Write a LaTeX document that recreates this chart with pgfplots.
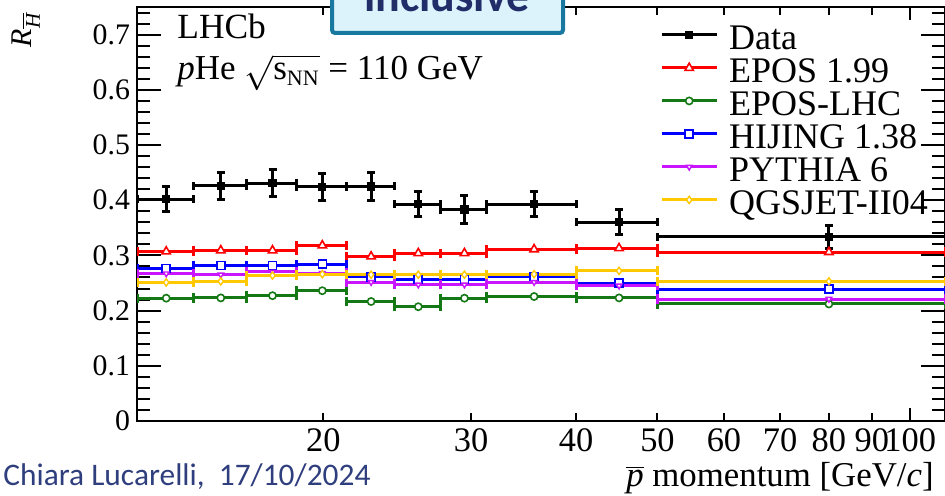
\documentclass[border=0pt]{standalone}
\usepackage{pgfplots}
\usepackage{pgfplotstable}
\pgfplotsset{compat=1.18}
\usepackage{fontspec}
\setmainfont{Liberation Serif}
\newfontfamily\carlito{Carlito}
\definecolor{cred}{RGB}{255,0,0}
\definecolor{cgreen}{RGB}{20,120,20}
\definecolor{cblue}{RGB}{0,0,255}
\definecolor{cpurple}{RGB}{200,20,255}
\definecolor{cyellow}{RGB}{255,200,0}
\definecolor{boxedge}{RGB}{24,120,160}
\definecolor{boxfill}{RGB}{221,243,252}
\definecolor{navy}{RGB}{32,45,105}
\definecolor{footer}{RGB}{47,62,125}

\pgfplotstableread{
x     ex    y     ey    epos   elhc   hij    pyt    qgs
13    1     0.402 0.022 0.307  0.2225 0.276  0.267  0.251
15.1  1.1   0.426 0.024 0.309  0.223  0.282  0.265  0.253
17.4  1.2   0.431 0.024 0.309  0.227  0.282  0.270  0.2635
19.95 1.35  0.424 0.025 0.318  0.236  0.284  0.268  0.266
22.8  1.5   0.425 0.025 0.298  0.2165 0.261  0.2515 0.265
25.95 1.65  0.393 0.022 0.304  0.207  0.256  0.247  0.265
29.45 1.85  0.383 0.025 0.304  0.2225 0.256  0.247  0.265
35.65 4.35  0.393 0.023 0.311  0.2255 0.262  0.2515 0.266
45    5     0.360 0.023 0.313  0.223  0.250  0.245  0.272
80    30    0.334 0.021 0.306  0.212  0.239  0.221  0.253
}\tab

\pgfplotsset{
  model/.style={color=#1, only marks, line width=1.5pt,
    error bars/x dir=both, error bars/x explicit,
    error bars/error bar style={line width=1.5pt, color=#1},
    error bars/error mark options={rotate=90, mark size=2.3pt, line width=1.5pt, color=#1}},
}

\begin{document}
\begin{tikzpicture}
\useasboundingbox (0pt,0pt) rectangle (472.5pt,248pt);
\begin{scope}
\clip (0pt,0pt) rectangle (472.5pt,248pt);
\begin{axis}[
  at={(68.5pt,37.5pt)}, anchor=south west,
  width=404pt, height=207pt, scale only axis,
  xmode=log, xmin=12, xmax=110, ymin=0, ymax=0.75,
  axis line style={line width=1.3pt},
  tick style={line width=1pt, black},
  tick align=inside,
  major tick length=12pt, minor tick length=6.5pt,
  xtick={20,30,40,50,60,70,80,90},
  xticklabels={20,30,40,50,60,70,80,90},
  extra x ticks={100}, extra x tick labels={100},
  extra x tick style={xtick style={/pgfplots/major tick length=6.5pt}},
  minor xtick={},
  xtick style={/pgfplots/major tick length=4pt},
  ytick={0,0.1,0.2,0.3,0.4,0.5,0.6,0.7},
  yticklabels={0,0.1,0.2,0.3,0.4,0.5,0.6,0.7},
  minor ytick={0.02,0.04,0.06,0.08,0.12,0.14,0.16,0.18,0.22,0.24,0.26,0.28,0.32,0.34,0.36,0.38,0.42,0.44,0.46,0.48,0.52,0.54,0.56,0.58,0.62,0.64,0.66,0.68,0.72,0.74},
  xticklabel style={font=\fontsize{17.2}{17.2}\selectfont, yshift=-0.3pt},
  yticklabel style={font=\fontsize{14.9}{14.9}\selectfont},
  legend style={at={(0.647,0.955)}, anchor=north west, draw=none, fill=none,
    font=\fontsize{18}{18}\selectfont, row sep=0pt, column sep=5.5pt,
    inner sep=0pt, nodes={inner sep=0pt, text height=11.7pt, text depth=4.8pt}},
  legend cell align=left,
  legend image code/.code={
    \draw[#1] (0pt,3.8pt) -- (27.5pt,3.8pt);
    \draw[#1] plot coordinates {(13.75pt,3.8pt)};
  },
]
\addplot[black, only marks, mark=square*, mark size=1.3pt, line width=1.5pt,
  error bars/.cd, x dir=both, x explicit, y dir=both, y explicit,
  error bar style={line width=1.5pt},
  error mark options={rotate=90, mark size=2pt, line width=1.5pt}]
  table[x=x, y=y, x error=ex, y error=ey]{\tab};
\addlegendentry{Data}
\addplot[model=cred, mark=triangle*, mark size=2.4pt, mark options={solid, line width=0.8pt, fill=white}]
  table[x=x, y=epos, x error=ex]{\tab};
\addlegendentry{EPOS 1.99}
\addplot[model=cgreen, mark=*, mark size=1.8pt, mark options={solid, line width=0.8pt, fill=white}]
  table[x=x, y=elhc, x error=ex]{\tab};
\addlegendentry{EPOS-LHC}
\addplot[model=cblue, mark=square*, mark size=2pt, mark options={solid, line width=0.8pt, fill=white}]
  table[x=x, y=hij, x error=ex]{\tab};
\addlegendentry{HIJING 1.38}
\addplot[model=cpurple, mark=triangle*, mark size=1.6pt, mark options={solid, rotate=180, line width=0.7pt, fill=white}]
  table[x=x, y=pyt, x error=ex]{\tab};
\addlegendentry{PYTHIA 6}
\addplot[model=cyellow, mark=diamond*, mark size=1.8pt, mark options={solid, line width=0.7pt, fill=white}]
  table[x=x, y=qgs, x error=ex]{\tab};
\addlegendentry{QGSJET-II04}
\end{axis}
\draw[boxedge, line width=2pt, fill=boxfill, rounded corners=1.5pt] (166pt,231.5pt) rectangle (281.5pt,275pt);
\node[anchor=base, font=\carlito\bfseries\fontsize{23}{23}\selectfont, text=navy, inner sep=0pt] at (223.5pt,242pt) {inclusive};
\node[anchor=base west, font=\fontsize{17.7}{17.7}\selectfont, inner sep=0pt] at (88.5pt,228.5pt) {LHCb};
\node[anchor=base west, font=\fontsize{17.5}{17.5}\selectfont, inner sep=0pt] at (88.5pt,208pt) {\textit{p}He $\sqrt{\mbox{s}_{\mbox{\fontsize{11}{11}\selectfont NN}}}$ = 110 GeV};
\node[anchor=base east, font=\fontsize{17.4}{17.4}\selectfont, inner sep=0pt] at (467pt,4.5pt) {$\overline{\mbox{\itshape p}}$ momentum [GeV/\textit{c}]};
\node[rotate=90, anchor=base, font=\fontsize{15}{15}\selectfont, inner sep=0pt] at (16pt,233pt) {\textit{R}$_{\overline{\mbox{\fontsize{10.5}{10.5}\selectfont\itshape H}}}$};
\node[anchor=base west, font=\carlito\fontsize{15.7}{15.7}\selectfont, text=footer, inner sep=0pt] at (1.5pt,5pt) {Chiara Lucarelli,\ \ 17/10/2024};
\end{scope}
\end{tikzpicture}
\end{document}
